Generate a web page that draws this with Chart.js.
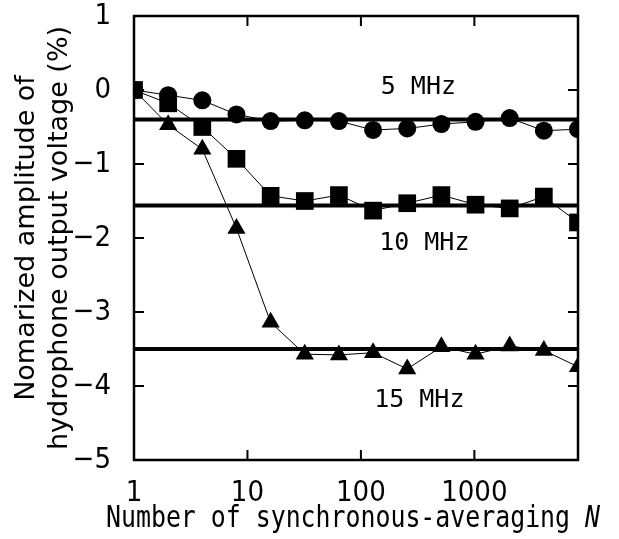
<!DOCTYPE html>
<html>
<head>
<meta charset="utf-8">
<script src="https://cdn.jsdelivr.net/npm/chart.js@4.4.0/dist/chart.umd.min.js"></script>
<style>
html,body{margin:0;padding:0;background:#fff;}
canvas{display:block;}
</style>
</head>
<body>
<canvas id="c" width="619" height="539"></canvas>
<script>
// ---- data ----
const N = [1, 2, 4, 8, 16, 32, 64, 128, 256, 512, 1024, 2048, 4096, 8192];
const amp5MHz  = [0, -0.07, -0.14, -0.33, -0.42, -0.41, -0.42, -0.54, -0.52, -0.46, -0.43, -0.38, -0.55, -0.53];
const amp10MHz = [0, -0.18, -0.50, -0.93, -1.43, -1.50, -1.42, -1.63, -1.53, -1.42, -1.55, -1.60, -1.44, -1.79];
const amp15MHz = [0, -0.47, -0.80, -1.87, -3.14, -3.57, -3.58, -3.55, -3.77, -3.47, -3.57, -3.46, -3.52, -3.74];
const levelValues = [-0.40, -1.56, -3.50];
const seriesNames = ['5 MHz', '10 MHz', '15 MHz'];
const xTickValues = [1, 10, 100, 1000];
const yTickValues = [-5, -4, -3, -2, -1, 0, 1];
const xTitle = 'Number of synchronous-averaging ';
const xTitleVar = 'N';
const yTitle = ['Nomarized amplitude of', 'hydrophone output voltage (%)'];

const TICKFONT = '"DejaVu Sans Condensed", "Liberation Sans", sans-serif';
const SANS = '"DejaVu Sans", sans-serif';
const MONO = '"DejaVu Sans Mono", "Liberation Mono", monospace';

function pts(ys) { return N.map((n, i) => ({x: n, y: ys[i]})); }
function levelLine(v) { return [{x: N[0], y: v}, {x: N[N.length - 1], y: v}]; }

const seriesStyle = [
  {pointStyle: 'circle', radius: 9},
  {pointStyle: 'rect', radius: 12.5},
  {pointStyle: 'triangle', radius: 10.5}
];
const seriesData = [amp5MHz, amp10MHz, amp15MHz];

const datasets = [];
levelValues.forEach(v => datasets.push({
  data: levelLine(v), borderColor: '#000', borderWidth: 4, pointRadius: 0, showLine: true, fill: false, order: 5
}));
seriesData.forEach((ys, i) => datasets.push({
  label: seriesNames[i], data: pts(ys), borderColor: '#000', backgroundColor: '#000',
  borderWidth: 1, pointStyle: seriesStyle[i].pointStyle, pointRadius: seriesStyle[i].radius,
  pointBorderWidth: 0, showLine: true, fill: false, order: 1
}));

// label anchors in data coordinates
const labelAnchors = [
  {text: seriesNames[0], x: 321, y: 0.03},
  {text: seriesNames[1], x: 362, y: -2.07},
  {text: seriesNames[2], x: 327, y: -4.19}
];

const framePlugin = {
  id: 'frame',
  afterDatasetsDraw(chart) {
    const {ctx, chartArea: a, scales: {x, y}} = chart;
    ctx.save();
    ctx.strokeStyle = '#000';
    ctx.lineWidth = 2.5;
    ctx.strokeRect(a.left, a.top, a.right - a.left, a.bottom - a.top);
    ctx.lineWidth = 2;
    const L = 10;
    ctx.beginPath();
    xTickValues.forEach(v => {
      const px = x.getPixelForValue(v);
      ctx.moveTo(px, a.bottom); ctx.lineTo(px, a.bottom - L);
      ctx.moveTo(px, a.top); ctx.lineTo(px, a.top + L);
    });
    yTickValues.forEach(v => {
      const py = y.getPixelForValue(v);
      ctx.moveTo(a.left, py); ctx.lineTo(a.left + L, py);
      ctx.moveTo(a.right, py); ctx.lineTo(a.right - L, py);
    });
    ctx.stroke();
    ctx.fillStyle = '#000';
    ctx.font = '25px ' + MONO;
    ctx.textAlign = 'center';
    ctx.textBaseline = 'middle';
    labelAnchors.forEach(l => {
      ctx.fillText(l.text, x.getPixelForValue(l.x), y.getPixelForValue(l.y));
    });
    ctx.restore();

    // x-axis title, condensed to the reference width, with italic N
    ctx.save();
    ctx.fillStyle = '#000';
    ctx.textAlign = 'left';
    ctx.textBaseline = 'middle';
    ctx.font = '30px ' + MONO;
    const w1 = ctx.measureText(xTitle).width;
    ctx.font = 'italic 30px ' + MONO;
    const w2 = ctx.measureText(xTitleVar).width;
    const targetW = 494, cx = 353, cy = 519;
    const s = targetW / (w1 + w2);
    ctx.translate(cx - targetW / 2, cy);
    ctx.scale(s, 1);
    ctx.font = '30px ' + MONO;
    ctx.fillText(xTitle, 0, 0);
    ctx.font = 'italic 30px ' + MONO;
    ctx.fillText(xTitleVar, w1, 0);
    ctx.restore();
  }
};

new Chart(document.getElementById('c'), {
  type: 'scatter',
  data: {datasets},
  plugins: [framePlugin],
  options: {
    responsive: false,
    devicePixelRatio: 1,
    animation: false,
    layout: {padding: {top: 16, right: 41, left: 0, bottom: 0}},
    plugins: {legend: {display: false}, tooltip: {enabled: false}},
    scales: {
      x: {
        type: 'logarithmic', min: 1, max: 8192, position: 'bottom',
        grid: {display: false},
        border: {display: false},
        afterBuildTicks: s => { s.ticks = xTickValues.map(v => ({value: v})); },
        afterFit: s => { s.height = 79; s.paddingLeft = 0; s.paddingRight = 0; },
        ticks: {
          color: '#000', font: {family: TICKFONT, size: 29, lineHeight: 1}, padding: 11,
          maxRotation: 0, autoSkip: false, callback: v => String(v)
        },
        title: {display: false}
      },
      y: {
        min: -5, max: 1,
        grid: {display: false},
        border: {display: false},
        afterBuildTicks: s => { s.ticks = yTickValues.map(v => ({value: v})); },
        afterFit: s => { s.width = 134; s.paddingTop = 0; s.paddingBottom = 0; },
        ticks: {
          color: '#000', font: {family: TICKFONT, size: 29, lineHeight: 1}, padding: 15,
          callback: v => (v < 0 ? '\u2212' + Math.abs(v) : String(v))
        },
        title: {
          display: true, text: yTitle, color: '#000',
          font: {family: SANS, size: 27, lineHeight: 1.22}, padding: {top: 11, bottom: 0}
        }
      }
    }
  }
});
</script>
</body>
</html>
